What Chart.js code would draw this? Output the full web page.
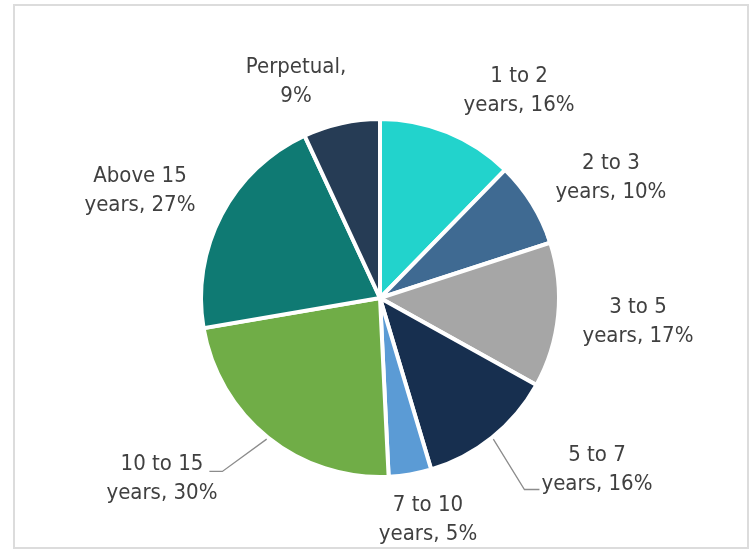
<!DOCTYPE html>
<html>
<head>
<meta charset="utf-8">
<script src="https://cdn.jsdelivr.net/npm/chart.js@4/dist/chart.umd.min.js"></script>
<style>
  html, body { margin: 0; padding: 0; background: #fff; }
  #wrap { position: relative; width: 755px; height: 550px; }
  #frame {
    position: absolute; left: 13px; top: 4px; width: 736px; height: 545px;
    box-sizing: border-box; border: 2px solid #dcdcdc;
  }
  #pie { position: absolute; left: 0; top: 0; }
</style>
</head>
<body>
<div id="wrap">
  <div id="frame"></div>
  <canvas id="pie" width="755" height="550"></canvas>
</div>
<script>
// maturity buckets, share in %
var categories = ["1 to 2 years", "2 to 3 years", "3 to 5 years", "5 to 7 years",
                  "7 to 10 years", "10 to 15 years", "Above 15 years", "Perpetual"];
var shares = [16, 10, 17, 16, 5, 30, 27, 9];
var colours = ["#22d3cc", "#3f6a92", "#a6a6a6", "#172f4f",
               "#5b9bd5", "#70ad47", "#0f7a73", "#263c55"];

// where each label block sits, relative to the pie centre (in radii)
var labelSpots = [[0.777, -1.156], [1.29, -0.67], [1.441, 0.134], [1.212, 0.961],
                  [0.268, 1.24], [-1.218, 1.011], [-1.341, -0.598], [-0.469, -1.207]];

function labelLines(cat, v) {
  if (/ years$/.test(cat)) {
    return [cat.replace(/ years$/, ""), "years, " + v + "%"];
  }
  return [cat + ",", v + "%"];
}

var outsideLabels = {
  id: "outsideLabels",
  afterDatasetsDraw: function(chart) {
    var ctx = chart.ctx;
    var meta = chart.getDatasetMeta(0);
    var lineGap = 29;
    ctx.save();
    ctx.font = "22px 'DejaVu Sans Condensed', 'DejaVu Sans'";
    ctx.fillStyle = "#404040";
    ctx.textAlign = "center";
    ctx.textBaseline = "middle";
    meta.data.forEach(function(arc, i) {
      var R = arc.outerRadius;
      var cx = arc.x + labelSpots[i][0] * R;
      var cy = arc.y + labelSpots[i][1] * R;
      var lines = labelLines(categories[i], shares[i]);
      var y1 = cy - lineGap / 2, y2 = cy + lineGap / 2;
      ctx.fillText(lines[0], cx, y1);
      ctx.fillText(lines[1], cx, y2);

      // leader lines for the two labels set further from their slices
      var mid = (arc.startAngle + arc.endAngle) / 2;
      var sx = arc.x + Math.cos(mid) * (R + 2);
      var sy = arc.y + Math.sin(mid) * (R + 2);
      var ex, ey, bx;
      if (categories[i] === "10 to 15 years") {
        ex = cx + ctx.measureText(lines[0]).width / 2 + 6;
        ey = y1 + 7;
        bx = ex + 13;
      } else if (categories[i] === "5 to 7 years") {
        ex = cx - ctx.measureText(lines[1]).width / 2 - 2;
        ey = y2 + 5;
        bx = ex - 15;
      } else {
        return;
      }
      ctx.beginPath();
      ctx.strokeStyle = "#8c8c8c";
      ctx.lineWidth = 1.3;
      ctx.moveTo(sx, sy);
      ctx.lineTo(bx, ey);
      ctx.lineTo(ex, ey);
      ctx.stroke();
    });
    ctx.restore();
  }
};

new Chart(document.getElementById("pie"), {
  type: "pie",
  data: {
    labels: categories,
    datasets: [{
      data: shares,
      backgroundColor: colours,
      borderColor: "#ffffff",
      borderWidth: 4,
      borderJoinStyle: "miter"
    }]
  },
  options: {
    responsive: false,
    animation: false,
    layout: { padding: { left: 199, right: 194, top: 117, bottom: 71 } },
    plugins: {
      legend: { display: false },
      tooltip: { enabled: false }
    }
  },
  plugins: [outsideLabels]
});
</script>
</body>
</html>
